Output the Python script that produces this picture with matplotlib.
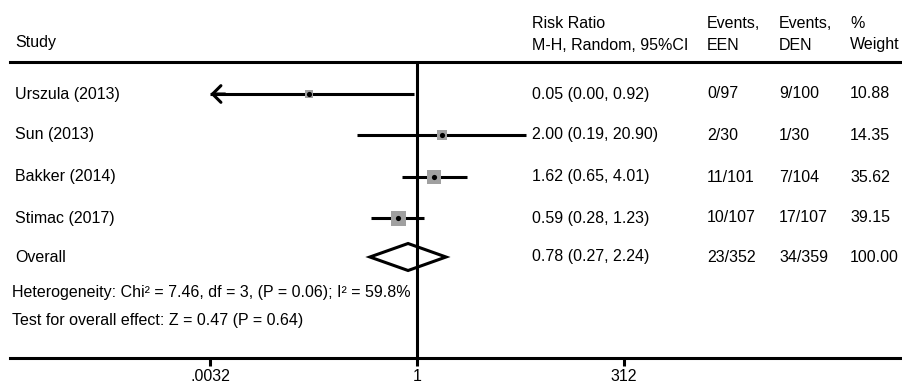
import matplotlib
matplotlib.use("Agg")
import matplotlib.pyplot as plt
from matplotlib import transforms
from matplotlib.ticker import FixedLocator, FixedFormatter, NullLocator

plt.rcParams['font.family'] = ['Liberation Sans', 'DejaVu Sans']

# Datos de los estudios
studies = ["Urszula (2013)", "Sun (2013)", "Bakker (2014)", "Stimac (2017)"]
rr = [0.05, 2.00, 1.62, 0.59]
ci_low = [0.00, 0.19, 0.65, 0.28]
ci_high = [0.92, 20.90, 4.01, 1.23]
events_een = ["0/97", "2/30", "11/101", "10/107"]
events_den = ["9/100", "1/30", "7/104", "17/107"]
weights = [10.88, 14.35, 35.62, 39.15]

# Resultado global
overall_rr = 0.78
overall_low = 0.27
overall_high = 2.24
overall_een = "23/352"
overall_den = "34/359"
overall_weight = 100.00

heterogeneity = "Heterogeneity: Chi² = 7.46, df = 3, (P = 0.06); I² = 59.8%"
overall_test = "Test for overall effect: Z = 0.47 (P = 0.64)"

tick_values = [0.0032, 1, 312]
tick_labels = [".0032", "1", "312"]

# Disposicion (pixeles)
W, H = 902, 386
AX_LEFT = 10
AXIS_Y = 358
X_ONE = 417
PX_PER_DECADE = 82.8
HEADER_LINE_Y = 62
ROW_Y = [94, 135, 177, 218]
OVERALL_Y = 257
HET_Y = 293
TEST_Y = 321
COL_STUDY, COL_RR, COL_EEN, COL_DEN, COL_W = 15, 532, 707, 779, 850
FS = 11.5
LW = 2.2
MAX_BOX = 15  # lado del cuadrado mas grande (px)

fig = plt.figure(figsize=(W / 100, H / 100), dpi=100)
ax = fig.add_axes([AX_LEFT / W, (H - AXIS_Y) / H, (W - AX_LEFT) / W, AXIS_Y / H])
ax.set_xscale('log')
ax.set_xlim(10 ** ((AX_LEFT - X_ONE) / PX_PER_DECADE), 10 ** ((W - X_ONE) / PX_PER_DECADE))
ax.set_ylim(AXIS_Y, 0)

# Ejes
for side in ['left', 'top', 'right']:
    ax.spines[side].set_visible(False)
ax.spines['bottom'].set_linewidth(LW)
ax.set_yticks([])
ax.xaxis.set_major_locator(FixedLocator(tick_values))
ax.xaxis.set_major_formatter(FixedFormatter(tick_labels))
ax.xaxis.set_minor_locator(NullLocator())
ax.tick_params(axis='x', direction='out', length=6, width=LW, pad=2, labelsize=FS)

ax.axhline(HEADER_LINE_Y, color='black', lw=LW, clip_on=False)
ax.vlines(1, HEADER_LINE_Y, AXIS_Y, color='black', lw=LW, zorder=4)

# Intervalos de confianza y cuadrados
max_w = max(weights)
xmin_arrow = tick_values[0]
for y, est, lo, hi, w in zip(ROW_Y, rr, ci_low, ci_high, weights):
    if lo < xmin_arrow:
        ax.plot([xmin_arrow, hi], [y, y], color='black', lw=LW, solid_capstyle='butt', zorder=2)
        ax.annotate('', xy=(xmin_arrow, y), xytext=(xmin_arrow * 1.5, y),
                    arrowprops=dict(arrowstyle='->, head_length=0.3, head_width=0.3',
                                    lw=LW, color='black', shrinkA=0, shrinkB=0,
                                    mutation_scale=20))
    else:
        ax.plot([lo, hi], [y, y], color='black', lw=LW, solid_capstyle='butt', zorder=2)
    side_pt = MAX_BOX * (w / max_w) ** 0.5 * 0.72
    ax.scatter([est], [y], marker='s', s=side_pt ** 2, color='#a0a0a0', lw=0, zorder=3)
    ax.scatter([est], [y], marker='o', s=14, color='black', lw=0, zorder=5)

# Diamante global
ax.fill([overall_low, overall_rr, overall_high, overall_rr],
        [OVERALL_Y, OVERALL_Y - 13.5, OVERALL_Y, OVERALL_Y + 13.5],
        facecolor='none', edgecolor='black', lw=LW, zorder=3)

# Textos
trans = transforms.blended_transform_factory(fig.transFigure, ax.transData)


def put(x, y, s):
    ax.text(x / W, y, s, transform=trans, fontsize=FS, va='center', ha='left', clip_on=False)


put(COL_STUDY, 42, "Study")
put(COL_RR, 23, "Risk Ratio")
put(COL_RR, 45, "M-H, Random, 95%CI")
put(COL_EEN, 23, "Events,")
put(COL_EEN, 45, "EEN")
put(COL_DEN, 23, "Events,")
put(COL_DEN, 45, "DEN")
put(COL_W, 23, "%")
put(COL_W, 45, "Weight")

for y, name, est, lo, hi, e1, e2, w in zip(ROW_Y, studies, rr, ci_low, ci_high,
                                           events_een, events_den, weights):
    put(COL_STUDY, y, name)
    put(COL_RR, y, f"{est:.2f} ({lo:.2f}, {hi:.2f})")
    put(COL_EEN, y, e1)
    put(COL_DEN, y, e2)
    put(COL_W, y, f"{w:.2f}")

put(COL_STUDY, OVERALL_Y, "Overall")
put(COL_RR, OVERALL_Y, f"{overall_rr:.2f} ({overall_low:.2f}, {overall_high:.2f})")
put(COL_EEN, OVERALL_Y, overall_een)
put(COL_DEN, OVERALL_Y, overall_den)
put(COL_W, OVERALL_Y, f"{overall_weight:.2f}")

put(12, HET_Y, heterogeneity)
put(12, TEST_Y, overall_test)

fig.savefig("out.png", dpi=100)
